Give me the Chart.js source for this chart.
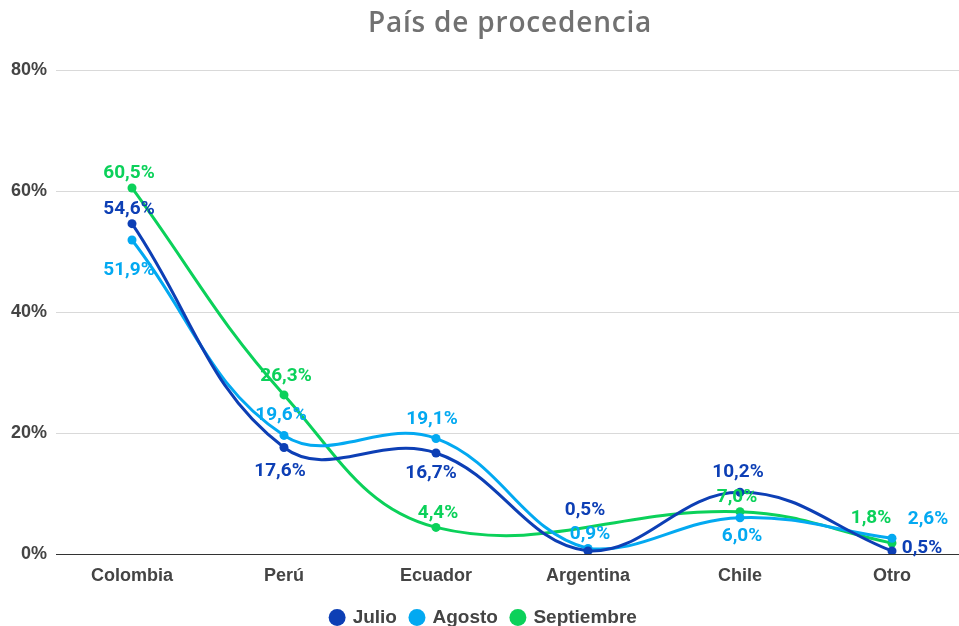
<!DOCTYPE html>
<html>
<head>
<meta charset="utf-8">
<script src="https://cdn.jsdelivr.net/npm/chart.js@4"></script>
<style>
  html, body { margin: 0; padding: 0; background: #fff; overflow: hidden; }
  #wrap { width: 959px; height: 626px; overflow: hidden; }
  #box { width: 980px; height: 637px; }
</style>
</head>
<body>
<div id="wrap"><div id="box"><canvas id="chart"></canvas></div></div>
<script>
const categories = ["Colombia", "Perú", "Ecuador", "Argentina", "Chile", "Otro"];
const julio = [54.6, 17.6, 16.7, 0.5, 10.2, 0.5];
const agosto = [51.9, 19.6, 19.1, 0.9, 6.0, 2.6];
const septiembre = [60.5, 26.3, 4.4, null, 7.0, 1.8];
const yTicks = [0, 20, 40, 60, 80];

const colors = { julio: "#0d3fb5", agosto: "#03a9f1", septiembre: "#0bd15a" };

// where each value label sits relative to its point [dx, dy]
const labelOffsets = [
  [[-3, -14], [-4, 24], [-5, 20], [-3, -41], [-2, -20], [30, -3]],
  [[-3, 30], [-3, -20], [-4, -19], [2, -14], [2, 19], [36, -19]],
  [[-3, -15], [2, -19], [2, -14], null, [-3, -14], [-21, -25]]
];

const fmt = v => v.toFixed(1).replace(".", ",") + "%";

const titlePlugin = {
  id: "titleText",
  afterDraw(chart) {
    const ctx = chart.ctx;
    ctx.save();
    ctx.font = "600 28px 'Open Sans'";
    ctx.letterSpacing = "0.8px";
    ctx.fillStyle = "#717171";
    ctx.textAlign = "center";
    ctx.textBaseline = "middle";
    ctx.fillText("País de procedencia", 510, 24);
    ctx.restore();
  }
};

const valueLabels = {
  id: "valueLabels",
  afterDatasetsDraw(chart) {
    const ctx = chart.ctx;
    ctx.save();
    ctx.font = "bold 19px Roboto";
    ctx.textAlign = "center";
    ctx.textBaseline = "middle";
    chart.data.datasets.forEach((ds, i) => {
      const meta = chart.getDatasetMeta(i);
      meta.data.forEach((pt, j) => {
        const v = ds.data[j];
        if (v == null || !labelOffsets[i][j]) return;
        const [dx, dy] = labelOffsets[i][j];
        ctx.fillStyle = ds.borderColor;
        ctx.fillText(fmt(v), pt.x + dx, pt.y + dy);
      });
    });
    ctx.restore();
  }
};

function series(label, data, color) {
  return {
    label, data,
    borderColor: color, backgroundColor: color,
    borderWidth: 3, pointRadius: 4.5, pointHoverRadius: 4.5,
    pointBorderWidth: 0, tension: 0.4, spanGaps: true
  };
}

new Chart(document.getElementById("chart"), {
  type: "line",
  data: {
    labels: categories,
    datasets: [
      series("Julio", julio, colors.julio),
      series("Agosto", agosto, colors.agosto),
      series("Septiembre", septiembre, colors.septiembre)
    ]
  },
  options: {
    responsive: true,
    maintainAspectRatio: false,
    animation: false,
    layout: { padding: { top: 70, right: 12, left: 0, bottom: 0 } },
    plugins: {
      title: { display: false },
      tooltip: { enabled: false },
      legend: {
        position: "bottom",
        labels: {
          usePointStyle: true, pointStyle: "circle", boxWidth: 12, boxHeight: 12,
          color: "#444", font: { family: "'Liberation Sans'", size: 19, weight: "bold" }, padding: 14
        }
      }
    },
    scales: {
      x: {
        offset: true,
        grid: { display: false, drawTicks: false },
        border: { display: false },
        ticks: { color: "#444", font: { family: "'Liberation Sans'", size: 18, weight: "bold" }, padding: 11 },
        afterFit(scale) { scale.height = 40; }
      },
      y: {
        min: 0, max: 80,
        afterBuildTicks(scale) { scale.ticks = yTicks.map(v => ({ value: v })); },
        grid: {
          drawTicks: false,
          color: ctx => ctx.tick.value === 0 ? "#333" : "#d9d9d9",
          lineWidth: 1
        },
        border: { display: false },
        ticks: {
          color: "#444", font: { family: "'Liberation Sans'", size: 18, weight: "bold" }, padding: 9,
          callback: v => v + "%"
        },
        afterFit(scale) { scale.width = 56; }
      }
    }
  },
  plugins: [titlePlugin, valueLabels]
});
</script>
</body>
</html>
